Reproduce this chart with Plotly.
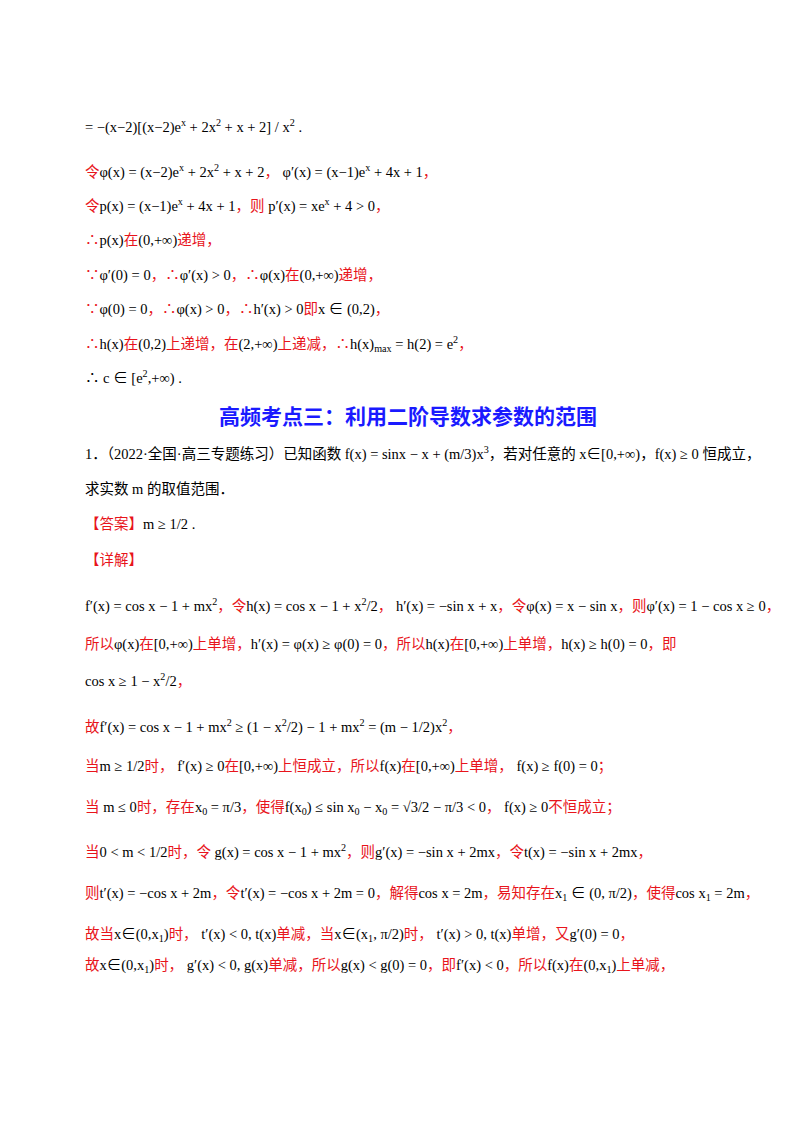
import plotly.graph_objects as go

R = '<span style="color:#e8141b">'
E = '</span>'

# (y position top-to-bottom, text)
line_y = [118, 163, 197, 232, 267, 301, 336, 369,
          445, 481, 515, 552, 597, 636, 672, 718, 758, 800, 843, 886, 927, 958]
line_text = [
    "= −(x−2)[(x−2)e<sup>x</sup> + 2x<sup>2</sup> + x + 2] / x<sup>2</sup> .",
    R+"令"+E+"φ(x) = (x−2)e<sup>x</sup> + 2x<sup>2</sup> + x + 2"+R+"，"+E+" φ′(x) = (x−1)e<sup>x</sup> + 4x + 1"+R+"，"+E,
    R+"令"+E+"p(x) = (x−1)e<sup>x</sup> + 4x + 1"+R+"，则"+E+" p′(x) = xe<sup>x</sup> + 4 > 0"+R+"，"+E,
    R+"∴"+E+"p(x)"+R+"在"+E+"(0,+∞)"+R+"递增，"+E,
    R+"∵"+E+"φ′(0) = 0"+R+"，∴"+E+"φ′(x) > 0"+R+"，∴"+E+"φ(x)"+R+"在"+E+"(0,+∞)"+R+"递增，"+E,
    R+"∵"+E+"φ(0) = 0"+R+"，∴"+E+"φ(x) > 0"+R+"，∴"+E+"h′(x) > 0"+R+"即"+E+"x ∈ (0,2)"+R+"，"+E,
    R+"∴"+E+"h(x)"+R+"在"+E+"(0,2)"+R+"上递增，在"+E+"(2,+∞)"+R+"上递减，∴"+E+"h(x)<sub>max</sub> = h(2) = e<sup>2</sup>"+R+"，"+E,
    "∴ c ∈ [e<sup>2</sup>,+∞) .",
    "1．（2022·全国·高三专题练习）已知函数 f(x) = sinx − x + (m/3)x<sup>3</sup>，若对任意的 x∈[0,+∞)，f(x) ≥ 0 恒成立，",
    "求实数 m 的取值范围．",
    R+"【答案】"+E+"m ≥ 1/2 .",
    R+"【详解】"+E,
    "f′(x) = cos x − 1 + mx<sup>2</sup>"+R+"，令"+E+"h(x) = cos x − 1 + x<sup>2</sup>/2"+R+"，"+E+" h′(x) = −sin x + x"+R+"，令"+E+"φ(x) = x − sin x"+R+"，则"+E+"φ′(x) = 1 − cos x ≥ 0"+R+"，"+E,
    R+"所以"+E+"φ(x)"+R+"在"+E+"[0,+∞)"+R+"上单增，"+E+"h′(x) = φ(x) ≥ φ(0) = 0"+R+"，所以"+E+"h(x)"+R+"在"+E+"[0,+∞)"+R+"上单增，"+E+"h(x) ≥ h(0) = 0"+R+"，即"+E,
    "cos x ≥ 1 − x<sup>2</sup>/2"+R+"，"+E,
    R+"故"+E+"f′(x) = cos x − 1 + mx<sup>2</sup> ≥ (1 − x<sup>2</sup>/2) − 1 + mx<sup>2</sup> = (m − 1/2)x<sup>2</sup>"+R+"，"+E,
    R+"当"+E+"m ≥ 1/2"+R+"时，"+E+" f′(x) ≥ 0"+R+"在"+E+"[0,+∞)"+R+"上恒成立，所以"+E+"f(x)"+R+"在"+E+"[0,+∞)"+R+"上单增，"+E+" f(x) ≥ f(0) = 0"+R+"；"+E,
    R+"当"+E+" m ≤ 0"+R+"时，存在"+E+"x<sub>0</sub> = π/3"+R+"，使得"+E+"f(x<sub>0</sub>) ≤ sin x<sub>0</sub> − x<sub>0</sub> = √3/2 − π/3 < 0"+R+"，"+E+" f(x) ≥ 0"+R+"不恒成立；"+E,
    R+"当"+E+"0 < m < 1/2"+R+"时，令"+E+" g(x) = cos x − 1 + mx<sup>2</sup>"+R+"，则"+E+"g′(x) = −sin x + 2mx"+R+"，令"+E+"t(x) = −sin x + 2mx"+R+"，"+E,
    R+"则"+E+"t′(x) = −cos x + 2m"+R+"，令"+E+"t′(x) = −cos x + 2m = 0"+R+"，解得"+E+"cos x = 2m"+R+"，易知存在"+E+"x<sub>1</sub> ∈ (0, π/2)"+R+"，使得"+E+"cos x<sub>1</sub> = 2m"+R+"，"+E,
    R+"故当"+E+"x∈(0,x<sub>1</sub>)"+R+"时，"+E+" t′(x) < 0, t(x)"+R+"单减，当"+E+"x∈(x<sub>1</sub>, π/2)"+R+"时，"+E+" t′(x) > 0, t(x)"+R+"单增，又"+E+"g′(0) = 0"+R+"，"+E,
    R+"故"+E+"x∈(0,x<sub>1</sub>)"+R+"时，"+E+" g′(x) < 0, g(x)"+R+"单减，所以"+E+"g(x) < g(0) = 0"+R+"，即"+E+"f′(x) < 0"+R+"，所以"+E+"f(x)"+R+"在"+E+"(0,x<sub>1</sub>)"+R+"上单减，"+E,
]
heading = "高频考点三：利用二阶导数求参数的范围"
heading_y = 407

fig = go.Figure()
fig.add_trace(go.Scatter(x=[0, 800], y=[0, 1132], mode="markers", marker=dict(opacity=0), hoverinfo="skip", showlegend=False))

for y, t in zip(line_y, line_text):
    fig.add_annotation(x=75, y=y, text=t, showarrow=False, xanchor="left", yanchor="middle",
                       font=dict(size=14.5, color="black", family="Liberation Serif, Noto Sans CJK SC"))
fig.add_annotation(x=400, y=heading_y, text="<b>"+heading+"</b>", showarrow=False, xanchor="center",
                   yanchor="middle", font=dict(size=21, color="#1a1aff", family="Noto Sans CJK SC"))

fig.update_layout(width=800, height=1132, margin=dict(l=0, r=0, t=0, b=0),
                  plot_bgcolor="white", paper_bgcolor="white",
                  xaxis=dict(range=[0, 800], visible=False, fixedrange=True),
                  yaxis=dict(range=[1132, 0], visible=False, fixedrange=True))
fig.write_html("out.html")
